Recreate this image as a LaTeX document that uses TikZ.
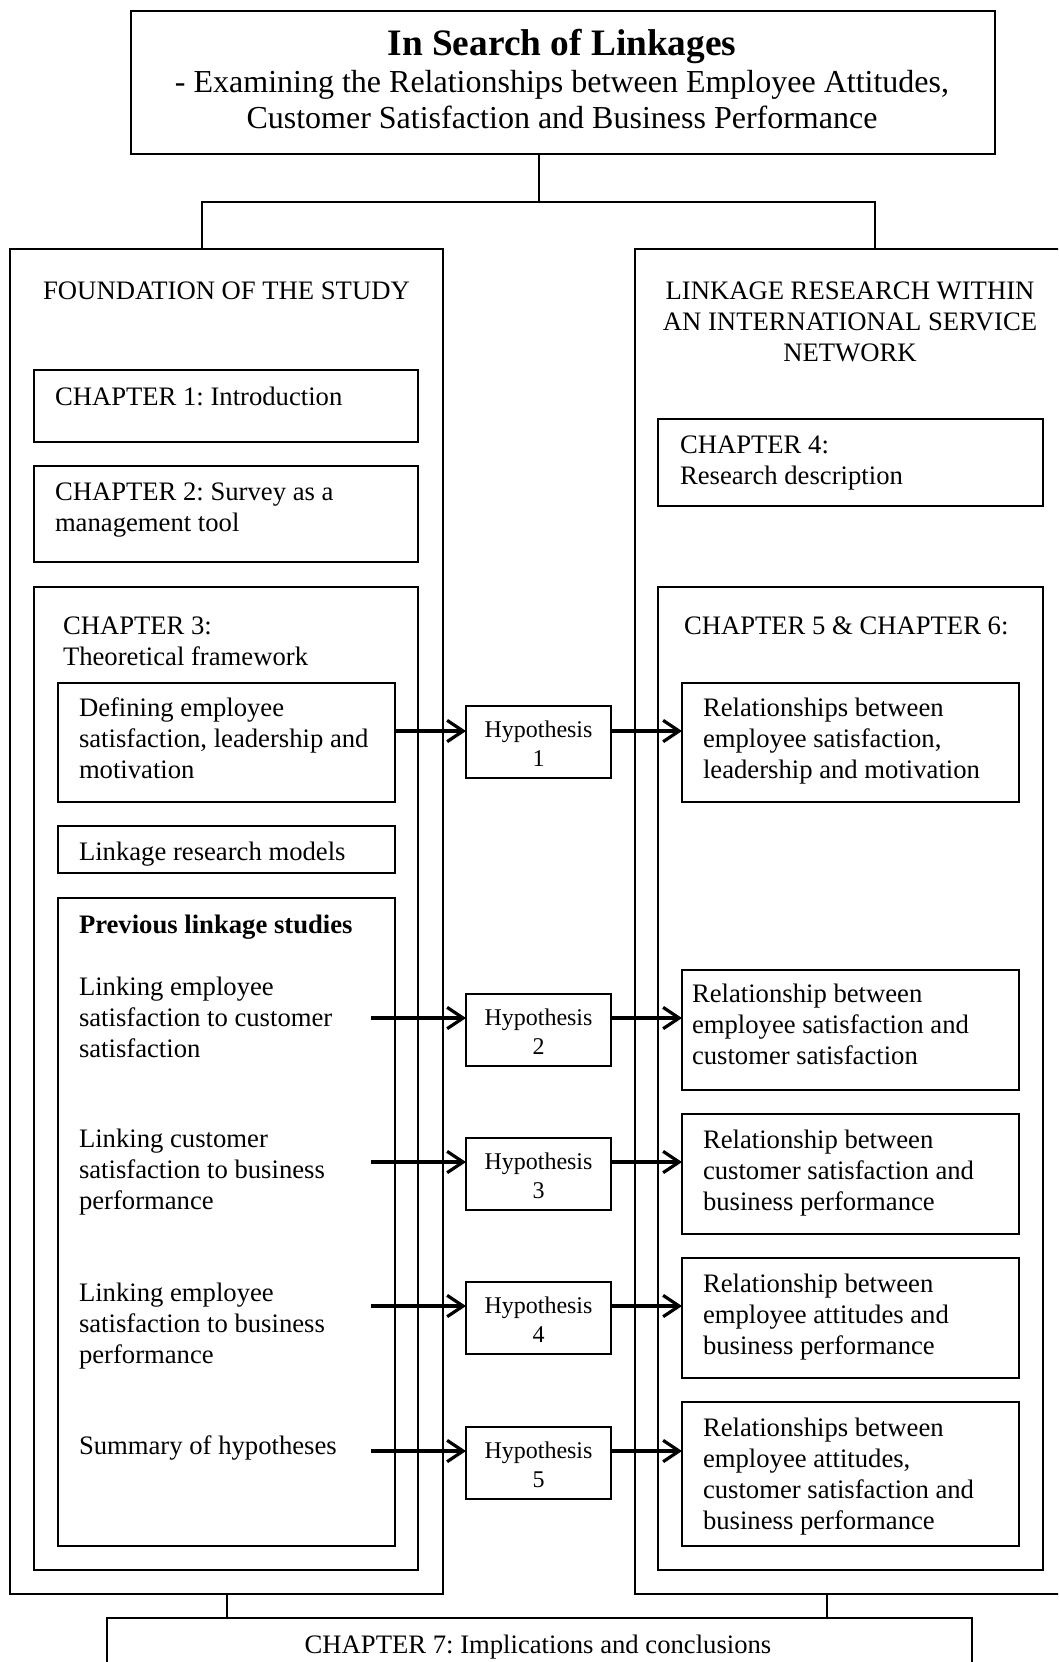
\documentclass[tikz,border=0pt]{standalone}
\usepackage{fontspec}
\setmainfont{Liberation Serif}
\usetikzlibrary{arrows.meta}
\frenchspacing
\begin{document}
\begin{tikzpicture}[x=0.75pt,y=-0.75pt,
  box/.style={draw, line width=1pt, inner sep=0pt, outer sep=0pt, anchor=north west},
  tl/.style={inner sep=0pt, outer sep=0pt, align=left, anchor=north west,
    font=\fontsize{20}{23.25}\selectfont},
  tc/.style={inner sep=0pt, outer sep=0pt, align=center, anchor=north,
    font=\fontsize{20}{23.25}\selectfont},
  th/.style={inner sep=0pt, outer sep=0pt, align=center, anchor=north,
    font=\fontsize{18}{21.75}\selectfont},
  hyp/.style={box, minimum width=145*0.75pt, minimum height=72*0.75pt},
  conn/.style={line width=1pt},
  arr/.style={line width=2.4pt, -{Straight Barb[length=12pt,width=16pt]}}]
\useasboundingbox (0,0) rectangle (1058,1662);
\clip (0,0) rectangle (1058,1662);

% ---- boxes
\node[box, minimum width=864*0.75pt, minimum height=143*0.75pt] (title) at (131,11) {};
\node[box, minimum width=433*0.75pt, minimum height=1345*0.75pt] (lout) at (10,249) {};
\node[box, minimum width=431*0.75pt, minimum height=1345*0.75pt] (rout) at (635,249) {};
\node[box, minimum width=384*0.75pt, minimum height=72*0.75pt] (ch1) at (34,370) {};
\node[box, minimum width=384*0.75pt, minimum height=96*0.75pt] (ch2) at (34,466) {};
\node[box, minimum width=384*0.75pt, minimum height=983*0.75pt] (ch3) at (34,587) {};
\node[box, minimum width=337*0.75pt, minimum height=119*0.75pt] (def) at (58,683) {};
\node[box, minimum width=337*0.75pt, minimum height=47*0.75pt] (lrm) at (58,826) {};
\node[box, minimum width=337*0.75pt, minimum height=648*0.75pt] (prev) at (58,898) {};
\node[box, minimum width=385*0.75pt, minimum height=87*0.75pt] (ch4) at (658,419) {};
\node[box, minimum width=385*0.75pt, minimum height=983*0.75pt] (ch56) at (658,587) {};
\node[box, minimum width=337*0.75pt, minimum height=119*0.75pt] (r1) at (682,683) {};
\node[box, minimum width=337*0.75pt, minimum height=120*0.75pt] (r2) at (682,970) {};
\node[box, minimum width=337*0.75pt, minimum height=120*0.75pt] (r3) at (682,1114) {};
\node[box, minimum width=337*0.75pt, minimum height=120*0.75pt] (r4) at (682,1258) {};
\node[box, minimum width=337*0.75pt, minimum height=144*0.75pt] (r5) at (682,1402) {};
\node[hyp] (h1) at (466,706) {};
\node[hyp] (h2) at (466,994) {};
\node[hyp] (h3) at (466,1138) {};
\node[hyp] (h4) at (466,1282) {};
\node[hyp] (h5) at (466,1427) {};
\node[box, minimum width=865*0.75pt, minimum height=90*0.75pt] (ch7) at (107,1618) {};

% ---- texts
\node[inner sep=0pt, anchor=north, font=\fontsize{28}{33}\selectfont\bfseries] (ttl) at (562,24.2) {\strut In Search of Linkages};
\node[inner sep=0pt, anchor=north, align=center, font=\fontsize{24}{27}\selectfont] (sub) at (562,66.8)
  {\strut - Examining the Relationships between Employee Attitudes,\\Customer Satisfaction and Business Performance};
\node[tc] (tfound) at (226.5,277.3) {\strut FOUNDATION OF THE STUDY};
\node[tc] (tlink) at (850,277.3) {\strut LINKAGE RESEARCH WITHIN\\AN INTERNATIONAL SERVICE\\NETWORK};
\node[tl] (tch1) at (55,383.3) {\strut CHAPTER 1: Introduction};
\node[tl] (tch2) at (55,478.3) {\strut CHAPTER 2: Survey as a\\management tool};
\node[tl] (tch3) at (63,612.3) {\strut CHAPTER 3:\\Theoretical framework};
\node[tl] (tdef) at (79,694.3) {\strut Defining employee\\satisfaction, leadership and\\motivation};
\node[tl] (tlrm) at (79,838.3) {\strut Linkage research models};
\node[tl] (tprev) at (79,911.3) {\strut\textbf{Previous linkage studies}};
\node[tl] (tl1) at (79,973.3) {\strut Linking employee\\satisfaction to customer\\satisfaction};
\node[tl] (tl2) at (79,1125.3) {\strut Linking customer\\satisfaction to business\\performance};
\node[tl] (tl3) at (79,1279.3) {\strut Linking employee\\satisfaction to business\\performance};
\node[tl] (tl4) at (79,1432.3) {\strut Summary of hypotheses};
\node[tl] (tch4) at (680,431.3) {\strut CHAPTER 4:\\Research description};
\node[tl] (tch56) at (684,612.3) {\strut CHAPTER 5 \& CHAPTER 6:};
\node[tl] (tr1) at (703,694.3) {\strut Relationships between\\employee satisfaction,\\leadership and motivation};
\node[tl] (tr2) at (692,980.3) {\strut Relationship between\\employee satisfaction and\\customer satisfaction};
\node[tl] (tr3) at (703,1126.3) {\strut Relationship between\\customer satisfaction and\\business performance};
\node[tl] (tr4) at (703,1270.3) {\strut Relationship between\\employee attitudes and\\business performance};
\node[tl] (tr5) at (703,1414.3) {\strut Relationships between\\employee attitudes,\\customer satisfaction and\\business performance};
\node[th] (th1) at (538.5,716.7) {\strut Hypothesis\\1};
\node[th] (th2) at (538.5,1004.7) {\strut Hypothesis\\2};
\node[th] (th3) at (538.5,1148.7) {\strut Hypothesis\\3};
\node[th] (th4) at (538.5,1292.7) {\strut Hypothesis\\4};
\node[th] (th5) at (538.5,1437.7) {\strut Hypothesis\\5};
\node[tc] (tch7) at (538,1631.3) {\strut CHAPTER 7: Implications and conclusions};

% ---- tree connectors
\coordinate (tj) at (539,202);
\coordinate (bl) at (202,202);
\coordinate (br) at (875,202);
\draw[conn] (tj |- title.south) -- (tj);
\draw[conn] (bl |- lout.north) -- (bl) -- (br) -- (br |- rout.north);
\coordinate (cl) at (227,1600);
\coordinate (cr) at (827,1600);
\draw[conn] (cl |- lout.south) -- (cl |- ch7.north);
\draw[conn] (cr |- rout.south) -- (cr |- ch7.north);

% ---- arrows
\coordinate (ls) at (371,0);
\coordinate (a1) at ([yshift=-18.75pt]h1.north west);
\coordinate (a2) at ([yshift=-18pt]h2.north west);
\coordinate (a3) at ([yshift=-18pt]h3.north west);
\coordinate (a4) at ([yshift=-18pt]h4.north west);
\coordinate (a5) at ([yshift=-18pt]h5.north west);
\draw[arr] (a1 -| def.east) -- (a1);
\draw[arr] (a1 -| h1.east) -- (a1 -| r1.west);
\draw[arr] (a2 -| ls) -- (a2);
\draw[arr] (a2 -| h2.east) -- (a2 -| r2.west);
\draw[arr] (a3 -| ls) -- (a3);
\draw[arr] (a3 -| h3.east) -- (a3 -| r3.west);
\draw[arr] (a4 -| ls) -- (a4);
\draw[arr] (a4 -| h4.east) -- (a4 -| r4.west);
\draw[arr] (a5 -| ls) -- (a5);
\draw[arr] (a5 -| h5.east) -- (a5 -| r5.west);
\end{tikzpicture}
\end{document}
